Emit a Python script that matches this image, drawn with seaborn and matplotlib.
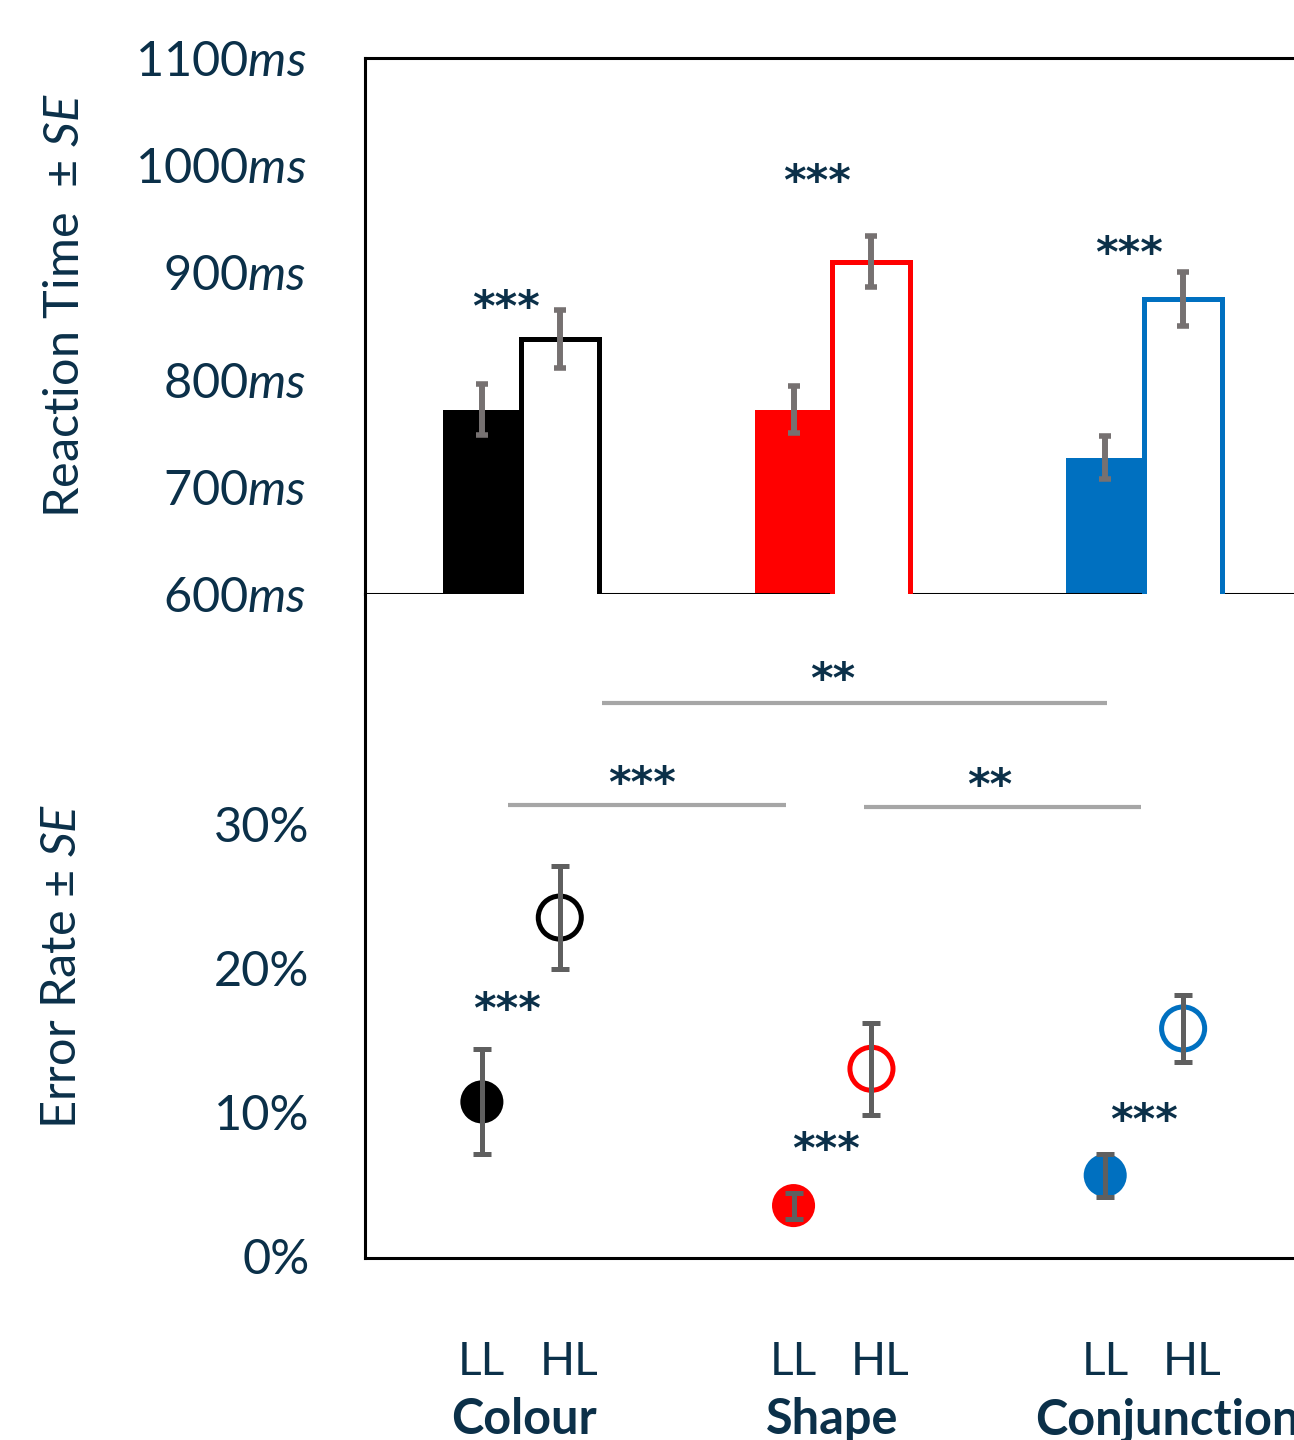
import matplotlib
matplotlib.use("Agg")
import matplotlib.pyplot as plt
import matplotlib.transforms as mtransforms
import seaborn as sns
import pandas as pd
import numpy as np

# ---------------- data ----------------
tasks = ["Colour", "Shape", "Conjunction"]
loads = ["LL", "HL"]
task_colors = ["#000000", "#FF0000", "#0070C0"]

rt_ll = [772, 772, 727]
rt_ll_se = [24, 22, 20]
rt_hl = [838, 910, 875]
rt_hl_se = [27, 24, 25]

err_ll = [10.7, 3.5, 5.6]
err_ll_se = [3.65, 0.9, 1.5]
err_hl = [23.5, 13.0, 15.8]
err_hl_se = [3.6, 3.2, 2.35]

rt_ticks = [600, 700, 800, 900, 1000, 1100]
err_ticks = [0, 10, 20, 30]

rt_stars = ["***", "***", "***"]
err_stars = ["***", "***", "***"]
group_comparisons = [("Colour", "Conjunction", "**"),
                     ("Colour", "Shape", "***"),
                     ("Shape", "Conjunction", "**")]

# ---------------- style ----------------
sns.set_theme(style="white")
TXT = "#0B3049"
plt.rcParams["font.family"] = ["Lato", "DejaVu Sans"]
plt.rcParams["mathtext.fontset"] = "custom"
plt.rcParams["mathtext.rm"] = "Lato"
plt.rcParams["mathtext.it"] = "Lato:italic"
plt.rcParams["text.color"] = TXT

W, H = 1294, 1440
fig = plt.figure(figsize=(W / 100, H / 100), dpi=100)

def ax_rect(x0, y0, x1, y1):
    return [x0 / W, 1 - y1 / H, (x1 - x0) / W, (y1 - y0) / H]

ax1 = fig.add_axes(ax_rect(365, 58, 1300, 594))
ax2 = fig.add_axes(ax_rect(365, 594, 1300, 1258))

off = 0.125
xpos = np.arange(len(tasks))

STAR_FS = 31
star_shift = mtransforms.ScaledTranslation(0, -0.235, fig.dpi_scale_trans)

def stars(ax, x, y, s):
    ax.text(x, y, s, transform=ax.transData + star_shift, ha="center",
            va="baseline", fontsize=STAR_FS, fontweight="bold",
            family="DejaVu Sans", color=TXT, zorder=6)

# ---------------- top: reaction time bars ----------------
df_rt = pd.DataFrame({
    "task": tasks * 2,
    "load": ["LL"] * 3 + ["HL"] * 3,
    "rt": rt_ll + rt_hl,
})
sns.barplot(data=df_rt, x="task", y="rt", hue="load", hue_order=loads,
            order=tasks, ax=ax1, width=0.5, dodge=True, errorbar=None,
            legend=False)
for p in ax1.patches:
    cx = p.get_x() + p.get_width() / 2
    gi = int(round(cx))
    col = task_colors[gi]
    if cx < gi:
        p.set_facecolor(col)
        p.set_edgecolor("none")
        p.set_zorder(2)
    else:
        p.set_facecolor("white")
        p.set_edgecolor(col)
        p.set_linewidth(3.6)
        p.set_zorder(3)

ax1.errorbar(xpos - off, rt_ll, yerr=rt_ll_se, fmt="none", ecolor="#767171",
             elinewidth=4.3, capsize=4.5, capthick=4, zorder=5)
ax1.errorbar(xpos + off, rt_hl, yerr=rt_hl_se, fmt="none", ecolor="#767171",
             elinewidth=4.3, capsize=4.5, capthick=4, zorder=5)

ax1.set_xlim(-0.5, 2.5)
ax1.set_ylim(600, 1100)
ax1.set_yticks(rt_ticks)
ax1.set_yticklabels([f"{t}$\\mathit{{ms}}$" for t in rt_ticks])
ax1.set_xticks([])
ax1.set_xlabel("")
ax1.set_ylabel("")
ax1.tick_params(axis="y", length=0, pad=42, labelsize=35, labelcolor=TXT)
for s in ["left", "top", "bottom"]:
    ax1.spines[s].set_visible(True)
    ax1.spines[s].set_color("black")
    ax1.spines[s].set_linewidth(2.2)
ax1.spines["right"].set_visible(False)

rt_star_y = [877, 994, 927]
for i, (s, yy) in enumerate(zip(rt_stars, rt_star_y)):
    stars(ax1, i - 0.048, yy, s)

# ---------------- bottom: error rate points ----------------
df_er = pd.DataFrame({
    "x": list(xpos - off) + list(xpos + off),
    "err": err_ll + err_hl,
    "task": tasks * 2,
    "load": ["LL"] * 3 + ["HL"] * 3,
})
ms = 31
for i, t in enumerate(tasks):
    sub_ll = df_er[(df_er.task == t) & (df_er.load == "LL")]
    sub_hl = df_er[(df_er.task == t) & (df_er.load == "HL")]
    sns.scatterplot(data=sub_ll, x="x", y="err", ax=ax2, s=ms ** 2,
                    color=task_colors[i], edgecolor="none", zorder=2,
                    legend=False)
    sns.scatterplot(data=sub_hl, x="x", y="err", ax=ax2, s=ms ** 2,
                    facecolor="none", edgecolor=task_colors[i],
                    linewidth=3.6, zorder=2, legend=False)

ax2.errorbar(xpos - off, err_ll, yerr=err_ll_se, fmt="none", ecolor="#5F5F5F",
             elinewidth=3.6, capsize=6.5, capthick=3.6, zorder=4)
ax2.errorbar(xpos + off, err_hl, yerr=err_hl_se, fmt="none", ecolor="#5F5F5F",
             elinewidth=3.6, capsize=6.5, capthick=3.6, zorder=4)

ax2.set_xlim(-0.5, 2.5)
ax2.set_ylim(-0.14, 45.97)
ax2.set_yticks(err_ticks)
ax2.set_yticklabels([f"{t}%" for t in err_ticks])
ax2.set_xlabel("")
ax2.set_ylabel("")
ax2.tick_params(axis="y", length=0, pad=40, labelsize=35, labelcolor=TXT)
for s in ["left", "bottom"]:
    ax2.spines[s].set_visible(True)
    ax2.spines[s].set_color("black")
    ax2.spines[s].set_linewidth(2.2)
ax2.spines["top"].set_visible(False)
ax2.spines["right"].set_visible(False)

# x tick labels LL / HL
xt = []
xl = []
for i in range(len(tasks)):
    xt += [i - off, i + off]
    xl += loads
ax2.set_xticks(xt)
ax2.set_xticklabels(xl)
ax2.tick_params(axis="x", length=0, pad=60, labelsize=33, labelcolor=TXT)
for k, lab in enumerate(ax2.get_xticklabels()):
    if k % 2 == 1:
        lab.set_transform(lab.get_transform() +
                          mtransforms.ScaledTranslation(9 / 100, 0, fig.dpi_scale_trans))

# group names
trans = mtransforms.blended_transform_factory(ax2.transData, fig.transFigure)
name_dx = [0.01, 0.0, 0.075]
for i, t in enumerate(tasks):
    ax2.text(i + name_dx[i], 1 - 1420 / H, t, transform=trans, ha="center",
             va="center", fontsize=35, fontweight="bold", color=TXT,
             clip_on=False)

# within-task stars
err_star_y = [17.8, 8.1, 10.1]
err_star_dx = [-0.045, -0.02, 0.0]
for i, (s, yy) in enumerate(zip(err_stars, err_star_y)):
    stars(ax2, i + err_star_dx[i], yy, s)

# between-task comparisons
comp_geom = {
    ("Colour", "Conjunction"): (0.26, 1.88, 38.4, 40.7, 1.0),
    ("Colour", "Shape"): (-0.04, 0.85, 31.3, 33.5, 0.39),
    ("Shape", "Conjunction"): (1.10, 1.99, 31.2, 33.4, 1.505),
}
for a, b, s in group_comparisons:
    x0, x1, ly, sy, sx = comp_geom[(a, b)]
    ax2.plot([x0, x1], [ly, ly], color="#A6A6A6", lw=3, solid_capstyle="butt",
             zorder=1)
    stars(ax2, sx, sy, s)

# y axis titles
fig.text(65 / W, 1 - 306 / H, "Reaction Time  ± $\\mathit{SE}$", rotation=90,
         ha="center", va="center", fontsize=35, color=TXT)
fig.text(62 / W, 1 - 966 / H, "Error Rate ± $\\mathit{SE}$", rotation=90,
         ha="center", va="center", fontsize=35, color=TXT)

fig.savefig("out.png", dpi=100)
